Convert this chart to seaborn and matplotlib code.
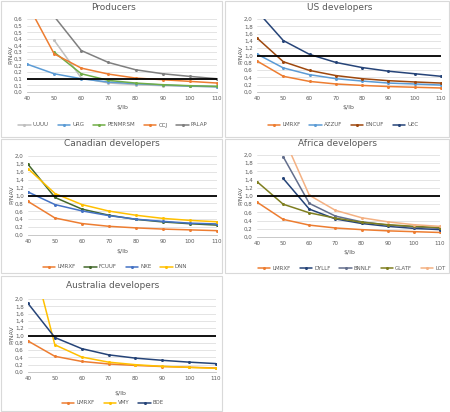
import numpy as np
import pandas as pd
import matplotlib
matplotlib.use("Agg")
import matplotlib.pyplot as plt
import seaborn as sns
from matplotlib.patches import Rectangle

nan = np.nan
prices = [40, 50, 60, 70, 80, 90, 100, 110]

# Producers (own y scale)
prod_names = ["UUUU", "URG", "PENMP.SM", "CCJ", "PALAP"]
uuuu = [nan, 0.39, 0.105, 0.068, 0.055, 0.048, 0.043, 0.038]
urg = [0.21, 0.1375, 0.10, 0.075, 0.0625, 0.053, 0.045, 0.040]
penmp = [nan, 0.30, 0.1375, 0.0875, 0.0675, 0.055, 0.0475, 0.0425]
ccj = [0.67, 0.2875, 0.18, 0.135, 0.105, 0.0925, 0.08, 0.0675]
palap = [nan, 0.57, 0.3125, 0.2225, 0.1675, 0.1375, 0.1175, 0.10]
prod_ticks = [0.0, 0.05, 0.1, 0.15, 0.2, 0.25, 0.3, 0.35, 0.4, 0.45, 0.5, 0.55]
prod_ticklabels = ["0,0", "0,1", "0,1", "0,2", "0,2", "0,3", "0,3", "0,4", "0,4", "0,5", "0,5", "0,6"]

lmrxf = [0.85, 0.43, 0.29, 0.22, 0.18, 0.15, 0.13, 0.11]

# US developers
us_names = ["LMRXF", "AZZUF", "ENCUF", "UEC"]
azzuf = [1.04, 0.66, 0.475, 0.365, 0.30, 0.245, 0.22, 0.19]
encuf = [1.48, 0.83, 0.59, 0.45, 0.365, 0.31, 0.275, 0.245]
uec = [2.22, 1.41, 1.03, 0.81, 0.67, 0.57, 0.50, 0.43]

# Canadian developers
ca_names = ["LMRXF", "FCUUF", "NXE", "DNN"]
fcuuf = [1.79, 0.95, 0.655, 0.50, 0.395, 0.33, 0.285, 0.25]
nxe = [1.09, 0.77, 0.61, 0.49, 0.40, 0.345, 0.30, 0.28]
dnn = [1.68, 1.05, 0.77, 0.605, 0.50, 0.42, 0.37, 0.335]

# Africa developers
af_names = ["LMRXF", "DYLLF", "BNNLF", "GLATF", "LOT"]
dyllf = [nan, 1.43, 0.68, 0.44, 0.33, 0.26, 0.21, 0.18]
bnnlf = [nan, 1.96, 0.82, 0.51, 0.37, 0.29, 0.245, 0.21]
glatf = [1.35, 0.80, 0.59, 0.46, 0.36, 0.30, 0.26, 0.23]
lot = [nan, 2.46, 1.02, 0.65, 0.47, 0.37, 0.30, 0.26]

# Australia developers
au_names = ["LMRXF", "VMY", "BOE"]
vmy = [3.6, 0.745, 0.41, 0.27, 0.20, 0.155, 0.127, 0.10]
boe = [1.88, 0.945, 0.64, 0.47, 0.38, 0.32, 0.27, 0.23]

dev_ticks = [0.0, 0.2, 0.4, 0.6, 0.8, 1.0, 1.2, 1.4, 1.6, 1.8, 2.0]
dev_ticklabels = ["0,0", "0,2", "0,4", "0,6", "0,8", "1,0", "1,2", "1,4", "1,6", "1,8", "2,0"]

W, H = 450, 412
TXT = "#595959"
GRID = "#D9D9D9"


def px(l, t, r, b):
    return [l / W, 1 - b / H, (r - l) / W, (b - t) / H]


def fx(x):
    return x / W


def fy(y):
    return 1 - y / H


sns.set_style("white")
plt.rcParams["font.family"] = ["DejaVu Sans"]
fig = plt.figure(figsize=(W / 100, H / 100), dpi=100)

# chart frames
for l, t, r, b in [(1, 1, 222, 137), (225, 1, 449, 137), (1, 139, 222, 273),
                   (225, 139, 449, 273), (1, 276, 222, 411)]:
    fig.patches.append(Rectangle((fx(l), fy(b)), (r - l) / W, (b - t) / H,
                                 transform=fig.transFigure, fill=False,
                                 edgecolor=GRID, lw=0.8))


def panel(rect, names, series, colors, ticks, ticklabels, ref, title, title_xy,
          xlabel_xy, ylabel_xy, legend_xy):
    ax = fig.add_axes(px(*rect))
    df = pd.DataFrame({"price": prices})
    for n, s in zip(names, series):
        df[n] = s
    long = df.melt(id_vars="price", var_name="ticker", value_name="pnav")
    sns.lineplot(data=long, x="price", y="pnav", hue="ticker", hue_order=names,
                 palette=colors, marker="o", markersize=2.2, markeredgewidth=0,
                 linewidth=1.1, ax=ax)
    ax.axhline(ref, color="black", lw=1.3, zorder=5)
    ax.set_xlim(40, 110)
    ax.set_ylim(ticks[0], ticks[-1])
    ax.set_xticks(prices)
    ax.set_xticklabels([str(p) for p in prices], fontsize=4, color=TXT)
    ax.set_yticks(ticks)
    ax.set_yticklabels(ticklabels, fontsize=4, color=TXT)
    ax.tick_params(length=0, pad=3)
    ax.grid(axis="y", color=GRID, lw=0.5)
    ax.set_axisbelow(True)
    for s in ["top", "right", "left"]:
        ax.spines[s].set_visible(False)
    ax.spines["bottom"].set_color("#BFBFBF")
    ax.spines["bottom"].set_linewidth(0.6)
    ax.set_xlabel("")
    ax.set_ylabel("")
    fig.text(fx(title_xy[0]), fy(title_xy[1]), title, ha="center", va="center",
             fontsize=6.5, color=TXT)
    fig.text(fx(xlabel_xy[0]), fy(xlabel_xy[1]), r"\$/lb", ha="center", va="center",
             fontsize=4.5, color=TXT)
    fig.text(fx(ylabel_xy[0]), fy(ylabel_xy[1]), "P/NAV", ha="center", va="center",
             fontsize=4.5, color=TXT, rotation=90)
    handles, labels = ax.get_legend_handles_labels()
    ax.legend(handles, labels, loc="center",
              bbox_to_anchor=(fx(legend_xy[0]), fy(legend_xy[1])),
              bbox_transform=fig.transFigure, ncol=len(names), frameon=False,
              fontsize=4, labelcolor=TXT, handlelength=2.2, columnspacing=1.6,
              handletextpad=0.4)
    return ax


panel((27, 19, 217, 92), prod_names, [uuuu, urg, penmp, ccj, palap],
      ["#BFBFBF", "#5B9BD5", "#70AD47", "#ED7D31", "#7F7F7F"],
      prod_ticks, prod_ticklabels, 0.1, "Producers",
      (113, 7), (122, 108), (10, 55), (113, 125))

panel((257, 19, 441, 92), us_names, [lmrxf, azzuf, encuf, uec],
      ["#ED7D31", "#5B9BD5", "#9E480E", "#264478"],
      dev_ticks, dev_ticklabels, 1.0, "US developers",
      (340, 7), (348, 108), (240, 55), (343, 125))

panel((28, 156, 217, 235), ca_names, [lmrxf, fcuuf, nxe, dnn],
      ["#ED7D31", "#43682B", "#4472C4", "#FFC000"],
      dev_ticks, dev_ticklabels, 1.0, "Canadian developers",
      (112, 144), (122, 252), (11, 195), (115, 267))

panel((257, 155, 440, 237), af_names, [lmrxf, dyllf, bnnlf, glatf, lot],
      ["#ED7D31", "#264478", "#636E8C", "#7E7E1F", "#F4B183"],
      dev_ticks, dev_ticklabels, 1.0, "Africa developers",
      (337, 143), (349, 253), (240, 196), (352, 268))

panel((28, 299, 216, 372), au_names, [lmrxf, vmy, boe],
      ["#ED7D31", "#FFC000", "#264478"],
      dev_ticks, dev_ticklabels, 1.0, "Australia developers",
      (113, 286), (120, 394), (11, 335), (113, 403))

fig.savefig("out.png", dpi=100)
